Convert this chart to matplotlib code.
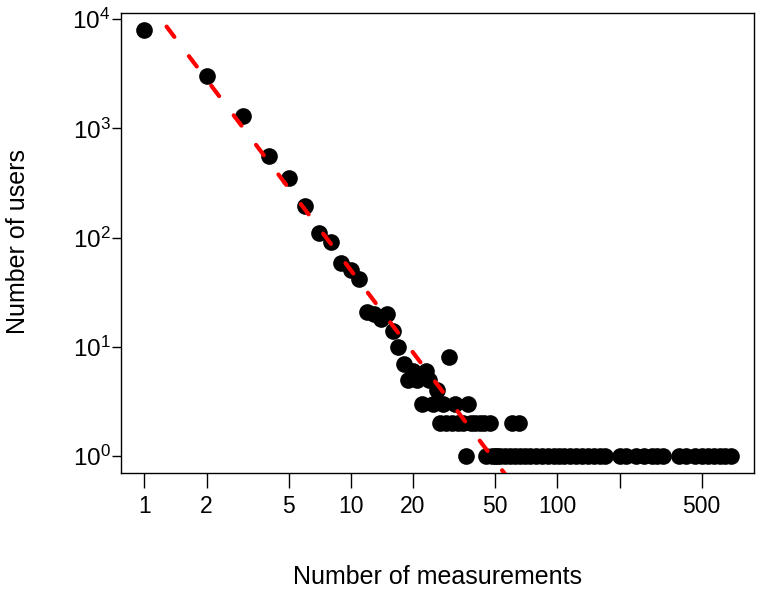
import numpy as np
import matplotlib
matplotlib.use("Agg")
import matplotlib.pyplot as plt
from matplotlib.ticker import FixedLocator, FixedFormatter, NullLocator

plt.rcParams['font.family'] = ['Liberation Sans', 'DejaVu Sans']
plt.rcParams['mathtext.fontset'] = 'custom'
plt.rcParams['mathtext.rm'] = 'Liberation Sans'
plt.rcParams['mathtext.it'] = 'Liberation Sans:italic'
plt.rcParams['mathtext.bf'] = 'Liberation Sans:bold'

# ---- data: number of measurements per user -> number of users ----
measurements = [1, 2, 3, 4, 5, 6, 7, 8, 9, 10, 11, 12, 13, 14, 15, 16, 17, 18,
                19, 20, 21, 22, 23, 24, 25, 26, 27, 28, 29, 30, 31, 32, 33, 35,
                36, 37, 38, 40, 42, 44, 45, 47, 48, 50, 51, 53, 56, 59, 60, 62,
                65, 66, 70, 74, 79, 84, 90, 96, 102, 108, 115, 123, 131, 140,
                150, 160, 171, 200, 215, 240, 262, 286, 305, 326, 390, 420,
                464, 500, 536, 575, 610, 650, 690]
users = [8000, 3000, 1300, 560, 350, 195, 110, 92, 58, 50, 42, 21, 20, 18, 20,
         14, 10, 7, 5, 6, 5, 3, 6, 5, 3, 4, 2, 3, 2, 8, 2, 3, 2, 2,
         1, 3, 2, 2, 2, 2, 1, 2, 1, 1, 1, 1, 1, 1, 2, 1,
         2, 1, 1, 1, 1, 1, 1, 1, 1, 1, 1, 1, 1, 1,
         1, 1, 1, 1, 1, 1, 1, 1, 1, 1, 1, 1,
         1, 1, 1, 1, 1, 1, 1]

# power-law fit: users = 10**4.2 * measurements**-2.5
fit_coef = 10 ** 4.2
fit_exponent = -2.5
fit_x = [1.28, 100]

x_ticks = [1, 2, 5, 10, 20, 50, 100, 200, 500]
x_tick_labels = ['1', '2', '5', '10', '20', '50', '100', '', '500']
y_ticks = [1, 10, 100, 1000, 10000]
y_tick_labels = [r'$\mathregular{10^{0}}$', r'$\mathregular{10^{1}}$',
                 r'$\mathregular{10^{2}}$', r'$\mathregular{10^{3}}$',
                 r'$\mathregular{10^{4}}$']

fig = plt.figure(figsize=(7.68, 5.95), dpi=100)
W, H = 768, 595
left, right, top, bottom = 121, 754, 12.7, 473
ax = fig.add_axes([left / W, 1 - bottom / H, (right - left) / W, (bottom - top) / H])

ax.plot(measurements, users, 'o', color='black', markersize=12, markeredgewidth=0,
        zorder=2)
fx = np.array(fit_x, dtype=float)
ax.plot(fx, fit_coef * fx ** fit_exponent, color='#ff0000', linewidth=3,
        linestyle=(0, (3.1, 5.8)), dash_capstyle='round', zorder=3)

ax.set_xscale('log')
ax.set_yscale('log')

# R-style 4% axis extension on log scale
lx = np.log10([min(measurements), max(measurements)])
ly = np.log10([min(users), max(users)])
ex = 0.04 * (lx[1] - lx[0])
ey = 0.04 * (ly[1] - ly[0])
ax.set_xlim(10 ** (lx[0] - ex), 10 ** (lx[1] + ex))
ax.set_ylim(10 ** (ly[0] - ey), 10 ** (ly[1] + ey))

ax.xaxis.set_major_locator(FixedLocator(x_ticks))
ax.xaxis.set_major_formatter(FixedFormatter(x_tick_labels))
ax.xaxis.set_minor_locator(NullLocator())
ax.yaxis.set_major_locator(FixedLocator(y_ticks))
ax.yaxis.set_major_formatter(FixedFormatter(y_tick_labels))
ax.yaxis.set_minor_locator(NullLocator())

ax.tick_params(axis='x', direction='out', length=10.8, width=1, pad=5,
               labelsize=16.5, colors='black')
ax.tick_params(axis='y', direction='out', length=6.5, width=1, pad=1,
               labelsize=17.5, colors='black')
for s in ax.spines.values():
    s.set_linewidth(1)
    s.set_color('black')

ax.set_xlabel('Number of measurements', fontsize=18)
ax.set_ylabel('Number of users', fontsize=18)
ax.xaxis.set_label_coords(0.5, (bottom - 577) / (bottom - top))
ax.xaxis.label.set_va('center')
ax.yaxis.set_label_coords((18 - left) / (right - left), (bottom - 242) / (bottom - top))
ax.yaxis.label.set_va('center')

fig.savefig('out.png', dpi=100)
